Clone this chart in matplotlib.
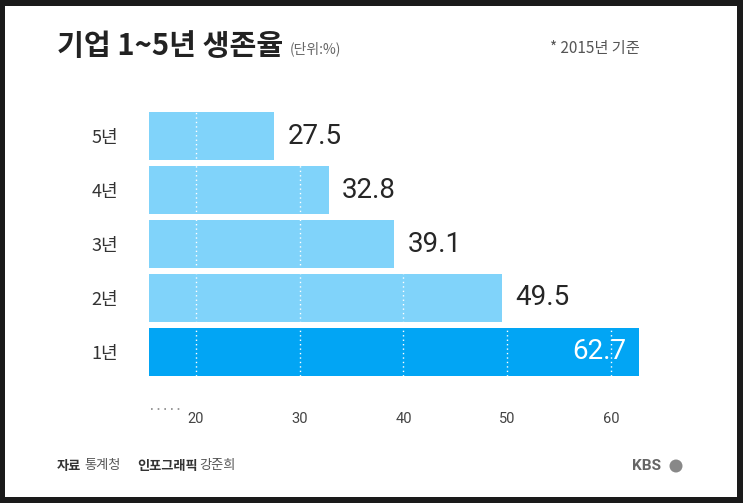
import matplotlib.pyplot as plt
import matplotlib.patches as patches
from matplotlib.lines import Line2D

plt.rcParams['font.family'] = ['Roboto', 'Noto Sans CJK KR', 'DejaVu Sans']

# data
categories = ['1년', '2년', '3년', '4년', '5년']
values = [62.7, 49.5, 39.1, 32.8, 27.5]
xticks = [20, 30, 40, 50, 60]

LIGHT = '#80d3fa'
DARK = '#02a5f4'
KR = ['Noto Sans CJK KR', 'DejaVu Sans']

W, H = 743, 503
fig = plt.figure(figsize=(W / 100, H / 100), dpi=100)
fig.patch.set_facecolor('#1a1a1a')
fig.add_artist(patches.Rectangle((5 / W, 6 / H), (W - 11) / W, (H - 12) / H,
                                 transform=fig.transFigure, facecolor='white',
                                 edgecolor='none', zorder=0))

# axes: left 149px, right 700px, top 112px, bottom 376px
ax = fig.add_axes([149 / W, 1 - 376 / H, (700 - 149) / W, (376 - 112) / H])
ax.set_facecolor('none')
for s in ax.spines.values():
    s.set_visible(False)

ypos = list(range(len(categories)))
colors = [DARK] + [LIGHT] * (len(values) - 1)
bars = ax.barh(ypos, values, height=0.89, color=colors, zorder=2)

x_left = 20 - 47 / 10.37
x_right = 20 + (700 - 196) / 10.37
ax.set_xlim(x_left, x_right)
ax.set_ylim(-0.445, len(values) - 0.555)

# white dotted grid over bars
for t in xticks:
    ax.axvline(t, color='white', linewidth=1.0, linestyle=(0, (1, 2.2)), zorder=3)

ax.set_yticks(ypos)
ax.set_yticklabels(categories, family=KR, fontsize=13, color='#333333')
ax.tick_params(axis='y', length=0, pad=22)
ax.set_xticks(xticks)
ax.set_xticklabels([str(t) for t in xticks], fontsize=10.5, color='#444444')
ax.tick_params(axis='x', length=0, pad=26)

for i, v in enumerate(values):
    if i == 0:
        ax.text(v - 1.2, i, f'{v}', ha='right', va='center', fontsize=20,
                color='white', zorder=4)
    else:
        ax.text(v + 1.3, i, f'{v}', ha='left', va='center', fontsize=20,
                color='#262626', zorder=4)

# dotted decoration left of the axis labels
fig.add_artist(Line2D([151 / W, 180 / W], [1 - 409 / H, 1 - 409 / H],
                      transform=fig.transFigure, color='#888888',
                      linewidth=1.2, linestyle=(0, (1, 3.0))))

# title and notes
fig.text(57 / W, 1 - 46 / H, '기업 1~5년 생존율', family=KR, fontsize=21,
         fontweight='bold', color='#222222', ha='left', va='center')
fig.text(290 / W, 1 - 49 / H, '(단위:%)', family=KR, fontsize=10,
         color='#666666', ha='left', va='center')
fig.text(640 / W, 1 - 48 / H, '* 2015년 기준', family=KR, fontsize=11,
         color='#555555', ha='right', va='center')

# footer
fy = 1 - 466 / H
fig.text(57 / W, fy, '자료', family=KR, fontsize=9.5,
         fontweight='bold', color='#333333', ha='left', va='center')
fig.text(84 / W, fy, '통계청', family=KR, fontsize=9.5,
         color='#555555', ha='left', va='center')
fig.text(137 / W, fy, '인포그래픽', family=KR, fontsize=9.5,
         fontweight='bold', color='#333333', ha='left', va='center')
fig.text(199 / W, fy, '강준희', family=KR, fontsize=9.5,
         color='#555555', ha='left', va='center')
fig.text(632 / W, fy, 'KBS', fontsize=11, color='#666666',
         ha='left', va='center', fontweight='bold')
fig.add_artist(patches.Ellipse((676 / W, fy), 13 / W, 13 / H,
                               transform=fig.transFigure, facecolor='#888888',
                               edgecolor='none'))

fig.savefig('out.png', dpi=100, facecolor=fig.get_facecolor())
